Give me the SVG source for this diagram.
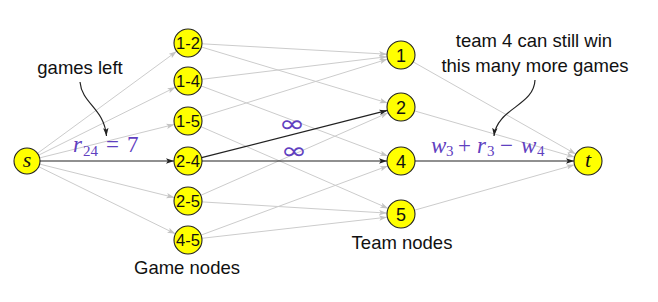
<svg xmlns="http://www.w3.org/2000/svg" width="658" height="302" viewBox="0 0 658 302">
  <defs>
    <marker id="tipGray" viewBox="0 0 8 6" refX="8" refY="3" markerWidth="8" markerHeight="6" markerUnits="userSpaceOnUse" orient="auto">
      <path d="M0,0.3 L8,3 L0,5.7 L1.8,3 Z" fill="#c4c4c4"/>
    </marker>
    <marker id="tipBlack" viewBox="0 0 8 6" refX="8" refY="3" markerWidth="8" markerHeight="6" markerUnits="userSpaceOnUse" orient="auto">
      <path d="M0,0.3 L8,3 L0,5.7 L1.8,3 Z" fill="#222"/>
    </marker>
    <style>
      .node circle { fill: #ffff00; stroke: #222; stroke-width: 1.1; }
      .node text { font-family: "Liberation Sans", Arial, sans-serif; fill: #111; text-anchor: middle; }
      .game text { font-size: 16.5px; }
      .team text { font-size: 18px; }
      .term text { font-family: "Liberation Serif", "Times New Roman", serif; font-style: italic; font-size: 22px; }
      .dim { stroke: #cccccc; stroke-width: 1; fill: none; marker-end: url(#tipGray); }
      .main { stroke: #222; stroke-width: 1.2; fill: none; marker-end: url(#tipBlack); }
      .note { font-family: "Liberation Sans", Arial, sans-serif; font-size: 18.5px; fill: #111; text-anchor: middle; }
      .math { font-family: "Liberation Serif", "Times New Roman", serif; font-size: 23px; fill: #6040c0; }
      .math .v { font-style: italic; }
      .math .sub { font-size: 15px; }
      .inf { font-family: "DejaVu Sans", sans-serif; font-size: 22px; fill: #6040c0; text-anchor: middle; }
    </style>
  </defs>

  <!-- connectors -->
  <g id="edges">
    <!-- source to game nodes -->
    <line class="dim" x1="37.5" y1="153.3" x2="176.7" y2="51.3"/>
    <line class="dim" x1="38.6" y1="155.2" x2="175.5" y2="87.2"/>
    <line class="dim" x1="39.6" y1="157.9" x2="174.4" y2="124.4"/>
    <line class="main" x1="40" y1="161" x2="174" y2="161"/>
    <line class="dim" x1="39.6" y1="164.1" x2="174.4" y2="197.6"/>
    <line class="dim" x1="38.7" y1="166.7" x2="175.4" y2="233.8"/>
    <!-- game nodes to team nodes -->
    <line class="dim" x1="202" y1="43.8" x2="387" y2="54.2"/>
    <line class="dim" x1="201.4" y1="47" x2="387.6" y2="103"/>
    <line class="dim" x1="201.9" y1="79.3" x2="387.1" y2="56.7"/>
    <line class="dim" x1="201.1" y1="85.9" x2="387.9" y2="156.1"/>
    <line class="dim" x1="201.4" y1="116.9" x2="387.6" y2="59.1"/>
    <line class="dim" x1="200.8" y1="126.6" x2="388.2" y2="208.4"/>
    <line class="dim" x1="200.8" y1="195.3" x2="388.2" y2="112.7"/>
    <line class="dim" x1="202" y1="201.9" x2="387" y2="213.1"/>
    <line class="dim" x1="201.1" y1="235.1" x2="387.9" y2="165.9"/>
    <line class="dim" x1="201.9" y1="238.3" x2="387.1" y2="217.2"/>
    <line class="main" x1="201.6" y1="157.6" x2="387.4" y2="110.4"/>
    <line class="main" x1="202" y1="161" x2="387" y2="161"/>
    <!-- team nodes to sink -->
    <line class="dim" x1="413.2" y1="61.9" x2="575.8" y2="154.1"/>
    <line class="dim" x1="414.5" y1="110.9" x2="574.5" y2="157.1"/>
    <line class="dim" x1="414.5" y1="210.2" x2="574.5" y2="164.8"/>
    <line class="main" x1="415" y1="161" x2="574" y2="161"/>
    <!-- annotation pointers -->
    <path class="main" d="M80,82 C82,104 104,108 106.5,136"/>
    <path class="main" d="M535,80 C534,106 497,108 494,136"/>
  </g>

  <!-- edge labels -->
  <text class="math" y="152"><tspan class="v" x="73">r</tspan><tspan class="sub" x="83" dy="4">24</tspan><tspan x="106" dy="-4">=</tspan><tspan x="127">7</tspan></text>
  <!-- capacities of the two edges out of 2-4, stretched wide -->
  <text class="inf" transform="translate(292,131.5) scale(1.45,1.1)">∞</text>
  <text class="inf" transform="translate(294,158.5) scale(1.45,1.1)">∞</text>
  <text class="math" y="153"><tspan class="v" x="431">w</tspan><tspan class="sub" x="446" dy="3">3</tspan><tspan x="458" dy="-3">+</tspan><tspan class="v" x="477">r</tspan><tspan class="sub" x="487" dy="3">3</tspan><tspan x="500" dy="-3">−</tspan><tspan class="v" x="521">w</tspan><tspan class="sub" x="537" dy="3">4</tspan></text>

  <!-- annotations -->
  <text class="note" x="80" y="74">games left</text>
  <text class="note" x="534" y="47" font-size="19.5">team 4 can still win</text>
  <text class="note" x="535" y="72" font-size="19.5">this many more games</text>
  <text class="note" x="187" y="274" font-size="17.5">Game nodes</text>
  <text class="note" x="402" y="249" font-size="17.5">Team nodes</text>

  <!-- source and sink -->
  <g id="node-s" class="node term"><circle cx="27" cy="161" r="13"/><text x="27" y="167">s</text></g>
  <g id="node-t" class="node term"><circle cx="588" cy="161" r="14"/><text x="588" y="167">t</text></g>

  <!-- game nodes -->
  <g id="game-1-2" class="node game"><circle cx="188" cy="43" r="14"/><text x="188" y="49">1-2</text></g>
  <g id="game-1-4" class="node game"><circle cx="188" cy="81" r="14"/><text x="188" y="87">1-4</text></g>
  <g id="game-1-5" class="node game"><circle cx="188" cy="121" r="14"/><text x="188" y="127">1-5</text></g>
  <g id="game-2-4" class="node game"><circle cx="188" cy="161" r="14"/><text x="188" y="167">2-4</text></g>
  <g id="game-2-5" class="node game"><circle cx="188" cy="201" r="14"/><text x="188" y="207">2-5</text></g>
  <g id="game-4-5" class="node game"><circle cx="188" cy="240" r="14"/><text x="188" y="246">4-5</text></g>

  <!-- team nodes -->
  <g id="team-1" class="node team"><circle cx="401" cy="55" r="14"/><text x="401" y="61.5">1</text></g>
  <g id="team-2" class="node team"><circle cx="401" cy="107" r="14"/><text x="401" y="113.5">2</text></g>
  <g id="team-4" class="node team"><circle cx="401" cy="161" r="14"/><text x="401" y="167.5">4</text></g>
  <g id="team-5" class="node team"><circle cx="401" cy="214" r="14"/><text x="401" y="220.5">5</text></g>
</svg>
